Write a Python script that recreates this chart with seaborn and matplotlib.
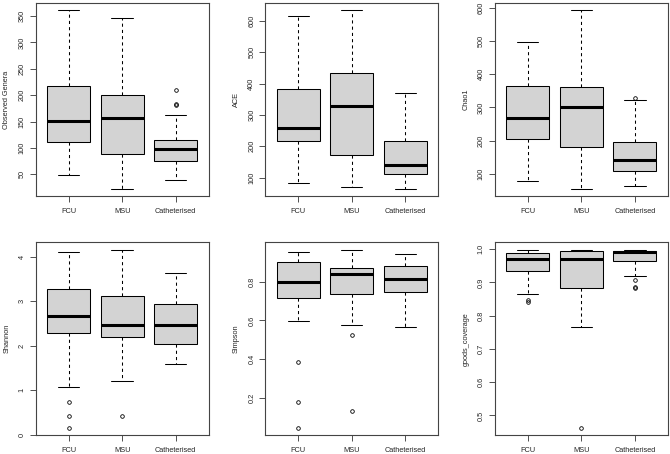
import numpy as np
import pandas as pd
import matplotlib
matplotlib.use("Agg")
import matplotlib.pyplot as plt
import seaborn as sns

groups = ['FCU', 'MSU', 'Catheterised']

observed = {
    'FCU': [49, 111, 152, 217, 361],
    'MSU': [23, 88, 157, 200, 347],
    'Catheterised': [40, 52, 61, 70, 76, 84, 90, 95, 98, 103, 108, 112, 115,
                     162, 181, 184, 209],
}
ace = {
    'FCU': [83, 218, 258, 383, 617],
    'MSU': [71, 172, 327, 434, 634],
    'Catheterised': [65, 112, 141, 217, 371],
}
chao1 = {
    'FCU': [77, 204, 268, 366, 496],
    'MSU': [55, 180, 300, 363, 593],
    'Catheterised': [64, 90, 108, 125, 141, 170, 194, 321, 328],
}
shannon = {
    'FCU': [0.16, 0.42, 0.75, 1.08, 2.28, 2.40, 2.52, 2.60, 2.67, 2.85, 3.00,
            3.15, 3.28, 3.50, 3.75, 3.95, 4.10],
    'MSU': [0.43, 1.21, 2.19, 2.30, 2.47, 2.80, 3.12, 3.60, 4.16],
    'Catheterised': [1.60, 2.04, 2.46, 2.94, 3.64],
}
simpson = {
    'FCU': [0.045, 0.176, 0.387, 0.596, 0.717, 0.74, 0.76, 0.78, 0.798, 0.83,
            0.86, 0.88, 0.902, 0.92, 0.935, 0.945, 0.952],
    'MSU': [0.133, 0.525, 0.574, 0.736, 0.77, 0.80, 0.840, 0.85, 0.86, 0.873,
            0.90, 0.93, 0.966],
    'Catheterised': [0.567, 0.745, 0.812, 0.883, 0.945],
}
goods = {
    'FCU': [0.842, 0.847, 0.866, 0.934, 0.945, 0.96, 0.970, 0.978, 0.985,
            0.990, 0.994, 0.997, 0.998],
    'MSU': [0.463, 0.765, 0.882, 0.93, 0.972, 0.985, 0.994, 0.997, 0.999],
    'Catheterised': [0.882, 0.887, 0.906, 0.921, 0.965, 0.975, 0.982, 0.988,
                     0.991, 0.993, 0.994, 0.995, 0.996, 0.997, 0.998, 0.998,
                     0.999],
}

panels = [
    ('Observed Genera', observed, [50, 100, 150, 200, 250, 300, 350], None),
    ('ACE', ace, [100, 200, 300, 400, 500, 600], None),
    ('Chao1', chao1, [100, 200, 300, 400, 500, 600], None),
    ('Shannon', shannon, [0, 1, 2, 3, 4], None),
    ('Simpson', simpson, [0.2, 0.4, 0.6, 0.8], '%.1f'),
    ('goods_coverage', goods, [0.5, 0.6, 0.7, 0.8, 0.9, 1.0], '%.1f'),
]

sns.set_style("ticks")
plt.rcParams['font.family'] = ['Liberation Sans', 'DejaVu Sans']
plt.rcParams['font.size'] = 5.3

fig, axes = plt.subplots(2, 3, figsize=(6.7, 4.54), dpi=100)
fig.subplots_adjust(left=0.053, right=0.997, top=0.993, bottom=0.042,
                    wspace=0.324, hspace=0.243)

for ax, (label, data, ticks, fmt) in zip(axes.flat, panels):
    df = pd.DataFrame({
        'group': [g for g in groups for _ in data[g]],
        'value': [v for g in groups for v in data[g]],
    })
    sns.boxplot(data=df, x='group', y='value', order=groups, ax=ax,
                color='lightgray', saturation=1, width=0.8,
                linecolor='black', linewidth=0.75,
                medianprops=dict(linewidth=2.2, color='black'),
                whiskerprops=dict(linestyle=(0, (3, 3)), linewidth=0.75),
                capprops=dict(linewidth=0.75),
                flierprops=dict(marker='o', markersize=2.6,
                                markerfacecolor='none',
                                markeredgecolor='black',
                                markeredgewidth=0.6))
    vals = df['value']
    rng = vals.max() - vals.min()
    ax.set_ylim(vals.min() - 0.04 * rng, vals.max() + 0.04 * rng)
    ax.set_xlim(-0.62, 2.62)
    ax.set_yticks(ticks)
    if fmt:
        ax.set_yticklabels([fmt % t for t in ticks])
    ax.set_xlabel('')
    ax.set_ylabel(label, fontsize=5.3, labelpad=6)
    ax.tick_params(axis='y', labelrotation=90, length=4, width=0.6,
                   pad=3, labelsize=5.3, color='#333333')
    ax.tick_params(axis='x', length=4, width=0.6, pad=5, labelsize=5.3,
                   color='#333333')
    for lab in ax.get_yticklabels():
        lab.set_va('center')
    for sp in ax.spines.values():
        sp.set_visible(True)
        sp.set_linewidth(0.8)
        sp.set_color('#444444')

fig.savefig('out.png', dpi=100)
